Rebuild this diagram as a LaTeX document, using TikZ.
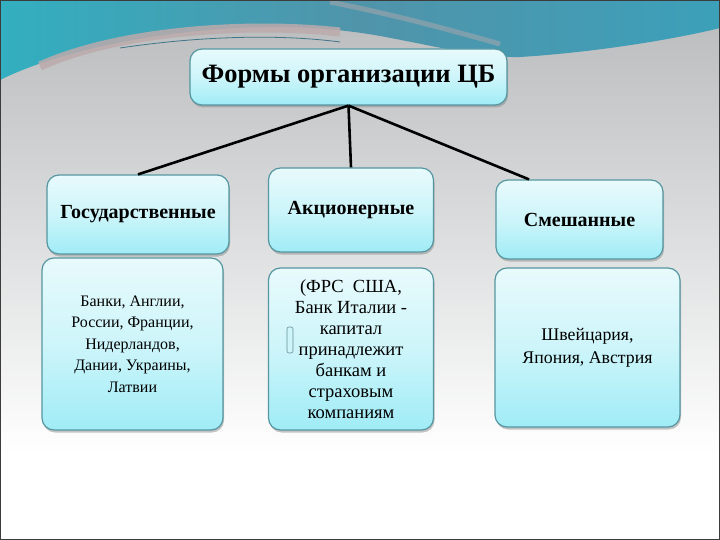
\documentclass[tikz,border=0pt]{standalone}
\usepackage{fontspec}
\setmainfont{Liberation Serif}
\usetikzlibrary{shadows,calc}
\definecolor{bgtop}{RGB}{184,186,188}
\definecolor{tealL}{RGB}{50,175,192}
\definecolor{tealM}{RGB}{80,148,170}
\definecolor{tealR}{RGB}{60,160,185}
\definecolor{bandc}{RGB}{188,170,172}
\definecolor{boxedge}{RGB}{85,150,160}
\definecolor{boxtop}{RGB}{232,250,252}
\definecolor{boxmid}{RGB}{205,245,250}
\definecolor{boxbot}{RGB}{160,236,246}
\definecolor{framec}{RGB}{60,60,60}
\tikzset{
  cbox/.style={draw=boxedge, line width=1.2pt, rounded corners=12pt,
    top color=boxtop, bottom color=boxbot, middle color=boxmid,
    drop shadow={shadow xshift=1pt, shadow yshift=-2.5pt, opacity=0.45},
    inner sep=0pt, align=center},
  hdr/.style={cbox, font=\fontsize{20}{22}\selectfont\bfseries},
  body/.style={cbox, font=\fontsize{16}{21.5}\selectfont},
  conn/.style={line width=2.6pt, black}
}
\begin{document}
\begin{tikzpicture}[x=1pt,y=-1pt]
\useasboundingbox (0,0) rectangle (720,540);
% background
\shade[top color=bgtop, bottom color=white] (0,0) rectangle (720,455);
\fill[white] (0,455) rectangle (720,540);
% teal wave
\shade[left color=tealL, right color=tealR, middle color=tealM]
  (0,0) -- (720,0) -- (720,28)
  .. controls (680,38) and (600,52) .. (520,57)
  .. controls (480,58) and (430,45) .. (380,36)
  .. controls (250,12) and (80,40) .. (0,80) -- cycle;
\draw[bandc, line width=9pt, opacity=0.85]
  (40,66) .. controls (120,30) and (250,22) .. (340,32);
\draw[tealM!80!black, line width=0.8pt] (120,48) .. controls (200,36) and (280,34) .. (340,42);
\draw[bandc, line width=5pt, opacity=0.45]
  (330,2) .. controls (400,16) and (450,30) .. (500,44);
% title
\node[cbox, minimum width=317pt, minimum height=56pt,
      font=\fontsize{26.5}{30}\selectfont\bfseries] (title) at (348.5,77) {Формы организации ЦБ};
% category boxes
\node[hdr, minimum width=182pt, minimum height=79pt] (gos) at (138,214.5) {Государственные};
\node[hdr, minimum width=165pt, minimum height=84pt] (akc) at (351,210) {Акционерные};
\node[hdr, minimum width=167pt, minimum height=79pt] (sme) at (579.5,219.5) {Смешанные};
% detail boxes
\node[body, minimum width=181pt, minimum height=172pt] (gosd) at (132.5,344) {Банки, Англии,\\России, Франции,\\Нидерландов,\\Дании, Украины,\\Латвии};
\node[body, minimum width=165pt, minimum height=162pt,
      font=\fontsize{18.5}{21}\selectfont] (akcd) at (351,349) {(ФРС\ \ США,\\Банк Италии -\\капитал\\принадлежит\\банкам и\\страховым\\компаниям};
\node[body, minimum width=185pt, minimum height=159pt,
      font=\fontsize{17.8}{23}\selectfont] (smed) at (587.5,347.5) {Швейцария,\\Япония, Австрия};
% small stray mark
\draw[boxedge!70!gray, fill=boxmid, rounded corners=2pt, line width=0.6pt] (287,327) rectangle (293,353);
% connectors
\draw[conn] (title.south) -- (gos.north);
\draw[conn] (title.south) -- (akc.north);
\draw[conn] (title.south) -- ($(sme.north west)!0.2!(sme.north east)$);
% frame
\draw[framec, line width=1.5pt] (0,0) rectangle (720,540);
\end{tikzpicture}
\end{document}
